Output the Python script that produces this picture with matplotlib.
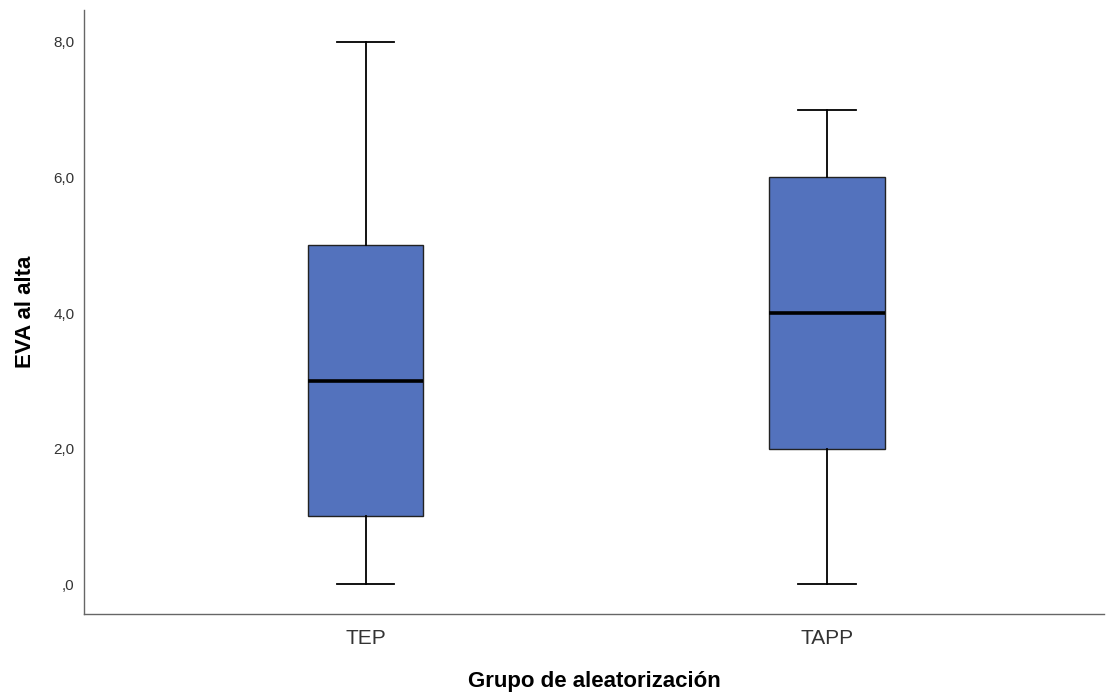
import matplotlib
matplotlib.use("Agg")
import matplotlib.pyplot as plt
from matplotlib.ticker import FuncFormatter

# data
grupos = ['TEP', 'TAPP']
minimos = [0.0, 0.0]
q1 = [1.0, 2.0]
medianas = [3.0, 4.0]
q3 = [5.0, 6.0]
maximos = [8.0, 7.0]

plt.rcParams['font.family'] = ['Liberation Sans', 'DejaVu Sans']

fig = plt.figure(figsize=(11.1, 6.95), dpi=100)
ax = fig.add_axes([84 / 1110, 81 / 695, 1020 / 1110, 604 / 695])

stats = []
for i in range(len(grupos)):
    stats.append({'label': grupos[i], 'whislo': minimos[i], 'q1': q1[i],
                  'med': medianas[i], 'q3': q3[i], 'whishi': maximos[i]})

ax.bxp(stats, positions=[1, 2], widths=0.25, showfliers=False, patch_artist=True,
       boxprops=dict(facecolor='#5372bd', edgecolor='#222222', linewidth=1.0),
       medianprops=dict(color='black', linewidth=2.6),
       whiskerprops=dict(color='black', linewidth=1.3),
       capprops=dict(color='black', linewidth=1.3),
       capwidths=0.125)

ax.set_xlim(0.39, 2.6)
ax.set_ylim(-0.44, 8.47)
ax.set_yticks([0, 2, 4, 6, 8])
ax.yaxis.set_major_formatter(FuncFormatter(
    lambda v, p: ',0' if v == 0 else f'{v:.1f}'.replace('.', ',')))
ax.tick_params(axis='both', length=0, colors='#333333')
ax.tick_params(axis='y', labelsize=11, pad=7)
ax.tick_params(axis='x', labelsize=15, pad=11)

for s in ['top', 'right']:
    ax.spines[s].set_visible(False)
for s in ['left', 'bottom']:
    ax.spines[s].set_color('#666666')
    ax.spines[s].set_linewidth(1.0)

ax.set_xlabel('Grupo de aleatorización', fontsize=16, fontweight='bold', labelpad=16)
ax.set_ylabel('EVA al alta', fontsize=16, fontweight='bold', labelpad=12)

fig.savefig('out.png', dpi=100)
